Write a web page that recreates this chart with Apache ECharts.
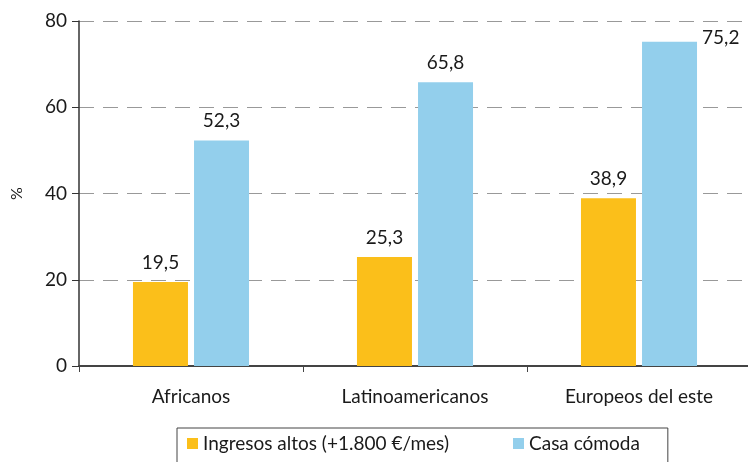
<!DOCTYPE html>
<html>
<head>
<meta charset="utf-8">
<script src="https://cdn.jsdelivr.net/npm/echarts@6/dist/echarts.min.js"></script>
<style>
  html, body { margin: 0; padding: 0; background: #fff; }
  #chart { width: 748px; height: 462px; }
</style>
</head>
<body>
<div id="chart"></div>
<script>
var categories = ["Africanos", "Latinoamericanos", "Europeos del este"];
var seriesNames = ["Ingresos altos (+1.800 €/mes)", "Casa cómoda"];
var ingresos = [19.5, 25.3, 38.9];
var casa = [52.3, 65.8, 75.2];

var FONT = "Lato, 'Open Sans', sans-serif";

function fmt(p) {
  return String(p.value).replace(".", ",");
}

var chart = echarts.init(document.getElementById("chart"));

chart.setOption({
  animation: false,
  textStyle: { fontFamily: FONT },
  grid: { left: 79, top: 21, bottom: 96, right: -3, outerBoundsMode: "none" },
  legend: {
    data: seriesNames,
    left: 177,
    top: 428,
    padding: [6, 28, 12, 10],
    itemGap: 64,
    itemWidth: 11,
    itemHeight: 11,
    icon: "rect",
    borderColor: "#444",
    borderWidth: 1,
    textStyle: { fontFamily: FONT, fontSize: 19, color: "#1a1a1a" }
  },
  xAxis: {
    type: "category",
    data: categories,
    axisLine: { lineStyle: { color: "#444", width: 2 } },
    axisTick: { show: true, length: 6, lineStyle: { color: "#444" } },
    axisLabel: { fontSize: 19, color: "#1a1a1a", margin: 21, fontFamily: FONT }
  },
  yAxis: {
    type: "value",
    min: 0,
    max: 80,
    interval: 20,
    name: "%",
    nameLocation: "middle",
    nameGap: 54,
    nameRotate: 90,
    nameTextStyle: { fontSize: 16, color: "#1a1a1a", fontFamily: FONT },
    axisLine: { show: true, lineStyle: { color: "#333", width: 1.5 } },
    axisTick: { show: true, length: 7, lineStyle: { color: "#333" } },
    axisLabel: { fontSize: 19, color: "#1a1a1a", margin: 12, fontFamily: FONT },
    splitLine: { lineStyle: { color: "#999", type: [15, 9], width: 1 } }
  },
  series: [
    {
      name: seriesNames[0],
      type: "bar",
      data: ingresos,
      barWidth: 55,
      barGap: "11%",
      itemStyle: { color: "#FBBF1A" },
      label: {
        show: true,
        position: "top",
        distance: 10,
        fontSize: 19,
        color: "#1a1a1a",
        fontFamily: FONT,
        formatter: fmt
      }
    },
    {
      name: seriesNames[1],
      type: "bar",
      data: casa.map(function (v, i) {
        if (i === 2) {
          return {
            value: v,
            label: { position: [60, -13], align: "left", verticalAlign: "top" }
          };
        }
        return v;
      }),
      barWidth: 55,
      itemStyle: { color: "#93CFEC" },
      label: {
        show: true,
        position: "top",
        distance: 10,
        fontSize: 19,
        color: "#1a1a1a",
        fontFamily: FONT,
        formatter: fmt
      }
    }
  ]
});
</script>
</body>
</html>
